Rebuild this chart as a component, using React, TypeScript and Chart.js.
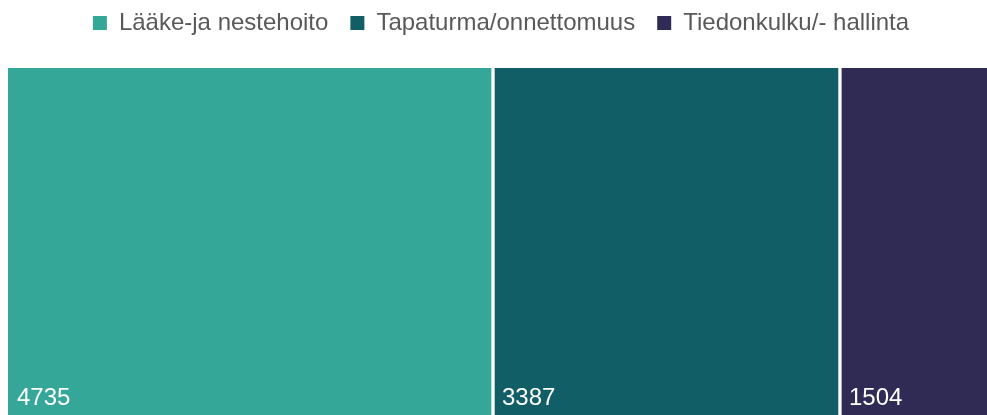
import { useEffect, useRef } from "react";
import { Chart, registerables } from "chart.js";
Chart.register(...registerables);

const categories = ["Lääke-ja nestehoito", "Tapaturma/onnettomuus", "Tiedonkulku/- hallinta"];
const values = [4735, 3387, 1504];
const colors = ["#35a798", "#125e66", "#2f2b55"];

const FONT = "'Liberation Sans', Arial, sans-serif";

export default function App() {
  const ref = useRef<HTMLCanvasElement>(null);
  useEffect(() => {
    document.documentElement.style.overflow = "hidden";
    document.body.style.overflow = "hidden";
    const total = values.reduce((a, b) => a + b, 0);

    const legendSpacer = {
      id: "legendSpacer",
      afterInit(chart: any) {
        const l = chart.legend;
        if (!l) return;
        const orig = l.fit.bind(l);
        l.fit = function () {
          orig();
          this.height += 23;
        };
      },
    };

    const valueLabels = {
      id: "valueLabels",
      afterDatasetsDraw(chart: any) {
        const ctx = chart.ctx;
        ctx.save();
        ctx.fillStyle = "#ffffff";
        ctx.font = `24px ${FONT}`;
        ctx.textAlign = "left";
        ctx.textBaseline = "alphabetic";
        values.forEach((v, i) => {
          const el = chart.getDatasetMeta(i).data[0];
          if (!el) return;
          const p = el.getProps(["x", "base", "y", "height"], true);
          const left = Math.min(p.x, p.base);
          ctx.fillText(String(v), left + 9, p.y + p.height / 2 - 10);
        });
        ctx.restore();
      },
    };

    const chart = new Chart(ref.current!, {
      type: "bar",
      data: {
        labels: [""],
        datasets: categories.map((c, i) => ({
          label: c,
          data: [values[i]],
          backgroundColor: colors[i],
          borderColor: "#ffffff",
          borderWidth: { top: 0, bottom: 0, left: i === 0 ? 0 : 2, right: 2 },
          borderSkipped: false,
          barPercentage: 1,
          categoryPercentage: 1,
        })),
      },
      options: {
        indexAxis: "y",
        responsive: false,
        animation: false,
        layout: { padding: 0 },
        scales: {
          x: { stacked: true, display: false, min: 0, max: total },
          y: { stacked: true, display: false },
        },
        plugins: {
          tooltip: { enabled: false },
          legend: {
            position: "top",
            align: "center",
            labels: {
              boxWidth: 14,
              boxHeight: 14,
              padding: 22,
              color: "#595959",
              font: { size: 24, family: FONT },
              generateLabels: (ch: any) =>
                ch.data.datasets.map((d: any, i: number) => ({
                  text: d.label,
                  fillStyle: colors[i],
                  strokeStyle: colors[i],
                  lineWidth: 0,
                  hidden: false,
                  datasetIndex: i,
                  fontColor: "#595959",
                })),
            },
          },
        },
      } as any,
      plugins: [legendSpacer, valueLabels],
    });
    return () => chart.destroy();
  }, []);

  return (
    <div style={{ position: "absolute", left: 8, top: -11, width: 986, height: 426 }}>
      <canvas ref={ref} width={986} height={426} style={{ display: "block" }} />
    </div>
  );
}
